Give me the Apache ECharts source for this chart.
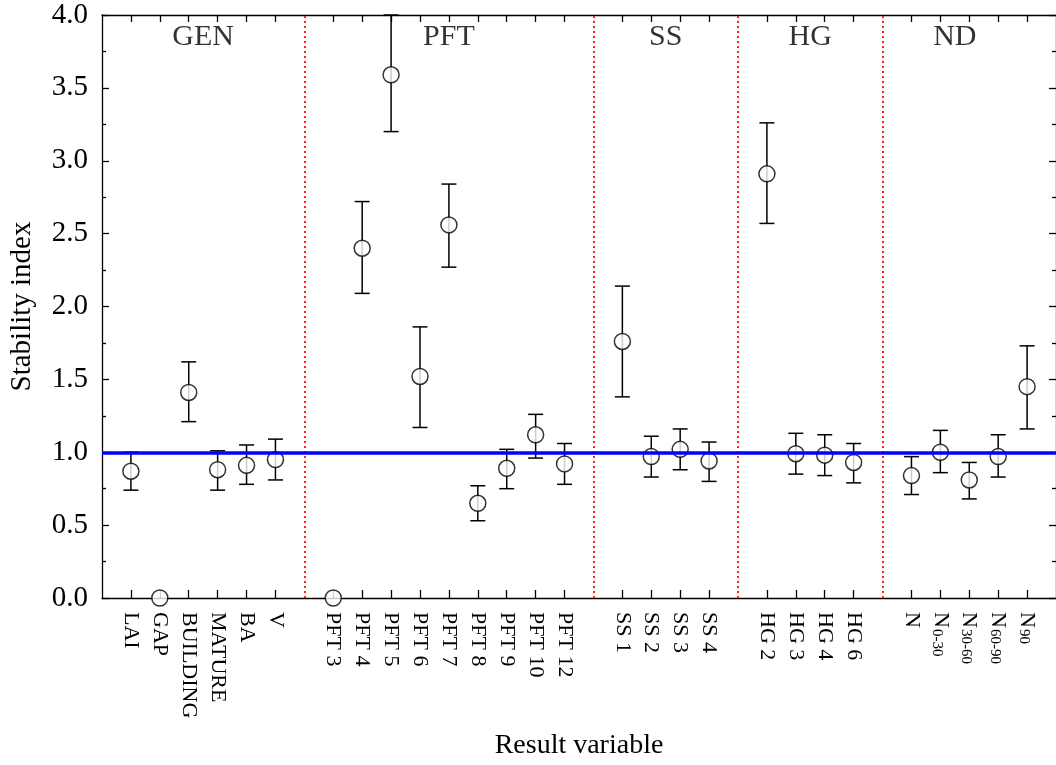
<!DOCTYPE html>
<html><head><meta charset="utf-8">
<script src="https://cdn.jsdelivr.net/npm/echarts@6/dist/echarts.min.js"></script>
<style>html,body{margin:0;padding:0;background:#fff}#c{width:1056px;height:765px}</style>
</head><body><div id="c"></div>
<script>
// ---- data ----
const groupNames = ['GEN', 'PFT', 'SS', 'HG', 'ND'];
const groupSizes = [6, 9, 4, 4, 5];
const groupLabelX = [3.5, 12, 19.5, 24.5, 29.5];
const groupLabelY = 3.85;
const categories = ['LAI', 'GAP', 'BUILDING', 'MATURE', 'BA', 'V',
  'PFT 3', 'PFT 4', 'PFT 5', 'PFT 6', 'PFT 7', 'PFT 8', 'PFT 9', 'PFT 10', 'PFT 12',
  'SS 1', 'SS 2', 'SS 3', 'SS 4',
  'HG 2', 'HG 3', 'HG 4', 'HG 6',
  'N', 'N0-30', 'N30-60', 'N60-90', 'N90'];
const centers = [0.87, 0, 1.41, 0.88, 0.91, 0.95,
  0, 2.40, 3.59, 1.52, 2.56, 0.65, 0.89, 1.12, 0.92,
  1.76, 0.97, 1.02, 0.94,
  2.91, 0.99, 0.98, 0.93,
  0.84, 1.00, 0.81, 0.97, 1.45];
const lower = [0.74, null, 1.21, 0.74, 0.78, 0.81,
  null, 2.09, 3.20, 1.17, 2.27, 0.53, 0.75, 0.96, 0.78,
  1.38, 0.83, 0.88, 0.80,
  2.57, 0.85, 0.84, 0.79,
  0.71, 0.86, 0.68, 0.83, 1.16];
const upper = [1.00, null, 1.62, 1.01, 1.05, 1.09,
  null, 2.72, 4.00, 1.86, 2.84, 0.77, 1.02, 1.26, 1.06,
  2.14, 1.11, 1.16, 1.07,
  3.26, 1.13, 1.12, 1.06,
  0.97, 1.15, 0.93, 1.12, 1.73];
const referenceLevel = 1.0;

// ---- derived positions on the x value axis ----
const positions = [];
const separators = [];
let p = 0;
groupSizes.forEach((n, gi) => {
  for (let i = 0; i < n; i++) { p++; positions.push(p); }
  p++;
  if (gi < groupSizes.length - 1) separators.push(p);
});
const xMax = p;
const labelByPos = {};
positions.forEach((pos, i) => { labelByPos[pos] = categories[i]; });

const FONT = "'Liberation Serif', 'Times New Roman', serif";

function fmtLabel(v) {
  const name = labelByPos[Math.round(v)];
  if (!name) return '';
  const m = /^N(\d.*)$/.exec(name);
  if (m) return '{n|N}{sub|' + m[1] + '}';
  return '{t|' + name + '}';
}

const errData = [];
const ptData = [];
positions.forEach((pos, i) => {
  ptData.push([pos, centers[i]]);
  if (lower[i] != null) errData.push([pos, lower[i], upper[i]]);
});

const chart = echarts.init(document.getElementById('c'), null, {renderer: 'canvas'});
const option = {
  backgroundColor: '#fff',
  animation: false,
  grid: {left: 98, top: 15, width: 961, height: 586, containLabel: false},
  xAxis: [{
    type: 'value', min: 0, max: xMax, position: 'bottom',
    name: 'Result variable', nameLocation: 'middle', nameGap: 134,
    nameTextStyle: {fontFamily: FONT, fontSize: 28, color: '#000'},
    axisLine: {show: true, onZero: false, lineStyle: {color: '#000', width: 1.3}},
    axisTick: {show: true, inside: true, length: 8, customValues: positions, lineStyle: {color: '#000', width: 1.3}},
    axisLabel: {
      show: true, customValues: positions, rotate: -90, margin: 14,
      formatter: fmtLabel,
      rich: {
        t: {fontFamily: FONT, fontSize: 22, color: '#000'},
        n: {fontFamily: FONT, fontSize: 22, color: '#000', verticalAlign: 'top', lineHeight: 22},
        sub: {fontFamily: FONT, fontSize: 15, color: '#000', verticalAlign: 'bottom', lineHeight: 15, padding: [14, 0, 0, 1]}
      }
    },
    splitLine: {show: false}
  }, {
    type: 'value', min: 0, max: xMax, position: 'top',
    axisLine: {show: true, onZero: false, lineStyle: {color: '#000', width: 1.3}},
    axisTick: {show: true, inside: true, length: 7, customValues: positions, lineStyle: {color: '#000', width: 1.3}},
    axisLabel: {show: false},
    splitLine: {show: false}
  }],
  yAxis: [{
    type: 'value', min: 0, max: 4, interval: 0.5, position: 'left',
    name: 'Stability index', nameLocation: 'middle', nameGap: 65,
    nameTextStyle: {fontFamily: FONT, fontSize: 29, color: '#000'},
    axisLine: {show: true, onZero: false, lineStyle: {color: '#000', width: 1.3}},
    axisTick: {show: true, inside: true, length: 7, lineStyle: {color: '#000', width: 1.3}},
    minorTick: {show: true, splitNumber: 2, length: 4, lineStyle: {color: '#000', width: 1.3}},
    axisLabel: {fontFamily: FONT, fontSize: 29, color: '#000', margin: 14, formatter: v => v.toFixed(1)},
    splitLine: {show: false}
  }, {
    type: 'value', min: 0, max: 4, interval: 0.5, position: 'right',
    axisLine: {show: true, onZero: false, lineStyle: {color: '#000', width: 1.3}},
    axisTick: {show: true, inside: true, length: 7, lineStyle: {color: '#000', width: 1.3}},
    minorTick: {show: true, splitNumber: 2, length: 4, lineStyle: {color: '#000', width: 1.3}},
    axisLabel: {show: false},
    splitLine: {show: false}
  }],
  series: [{
    name: 'separators', type: 'line', data: [], z: 1,
    markLine: {
      silent: true, symbol: 'none', label: {show: false},
      lineStyle: {color: '#ff2020', type: [2, 3], width: 2},
      data: separators.map(s => ({xAxis: s}))
    }
  }, {
    name: 'errors', type: 'custom', z: 2, clip: false,
    data: errData,
    renderItem: (params, api) => {
      const x = api.value(0);
      const lo = api.coord([x, api.value(1)]);
      const hi = api.coord([x, api.value(2)]);
      const hw = 7.5;
      const st = {stroke: '#000', lineWidth: 1.5};
      return {type: 'group', children: [
        {type: 'line', shape: {x1: lo[0], y1: lo[1], x2: hi[0], y2: hi[1]}, style: st},
        {type: 'line', shape: {x1: lo[0] - hw, y1: lo[1], x2: lo[0] + hw, y2: lo[1]}, style: st},
        {type: 'line', shape: {x1: hi[0] - hw, y1: hi[1], x2: hi[0] + hw, y2: hi[1]}, style: st}
      ]};
    }
  }, {
    name: 'index', type: 'scatter', z: 3, data: ptData,
    symbol: 'circle', symbolSize: 16, clip: false,
    itemStyle: {color: '#fff', borderColor: '#000', borderWidth: 1.5}
  }, {
    name: 'reference', type: 'line', data: [], z: 4,
    markLine: {
      silent: true, symbol: 'none', label: {show: false},
      lineStyle: {color: '#0000ff', type: 'solid', width: 3.5},
      data: [{yAxis: referenceLevel}]
    }
  }, {
    name: 'groups', type: 'scatter', z: 5, symbolSize: 0,
    data: groupNames.map((g, i) => [groupLabelX[i], groupLabelY, g]),
    label: {show: true, position: 'inside', formatter: pp => pp.value[2],
      fontFamily: FONT, fontSize: 30, color: '#000'}
  }]
};
chart.setOption(option);
</script>
</body></html>
